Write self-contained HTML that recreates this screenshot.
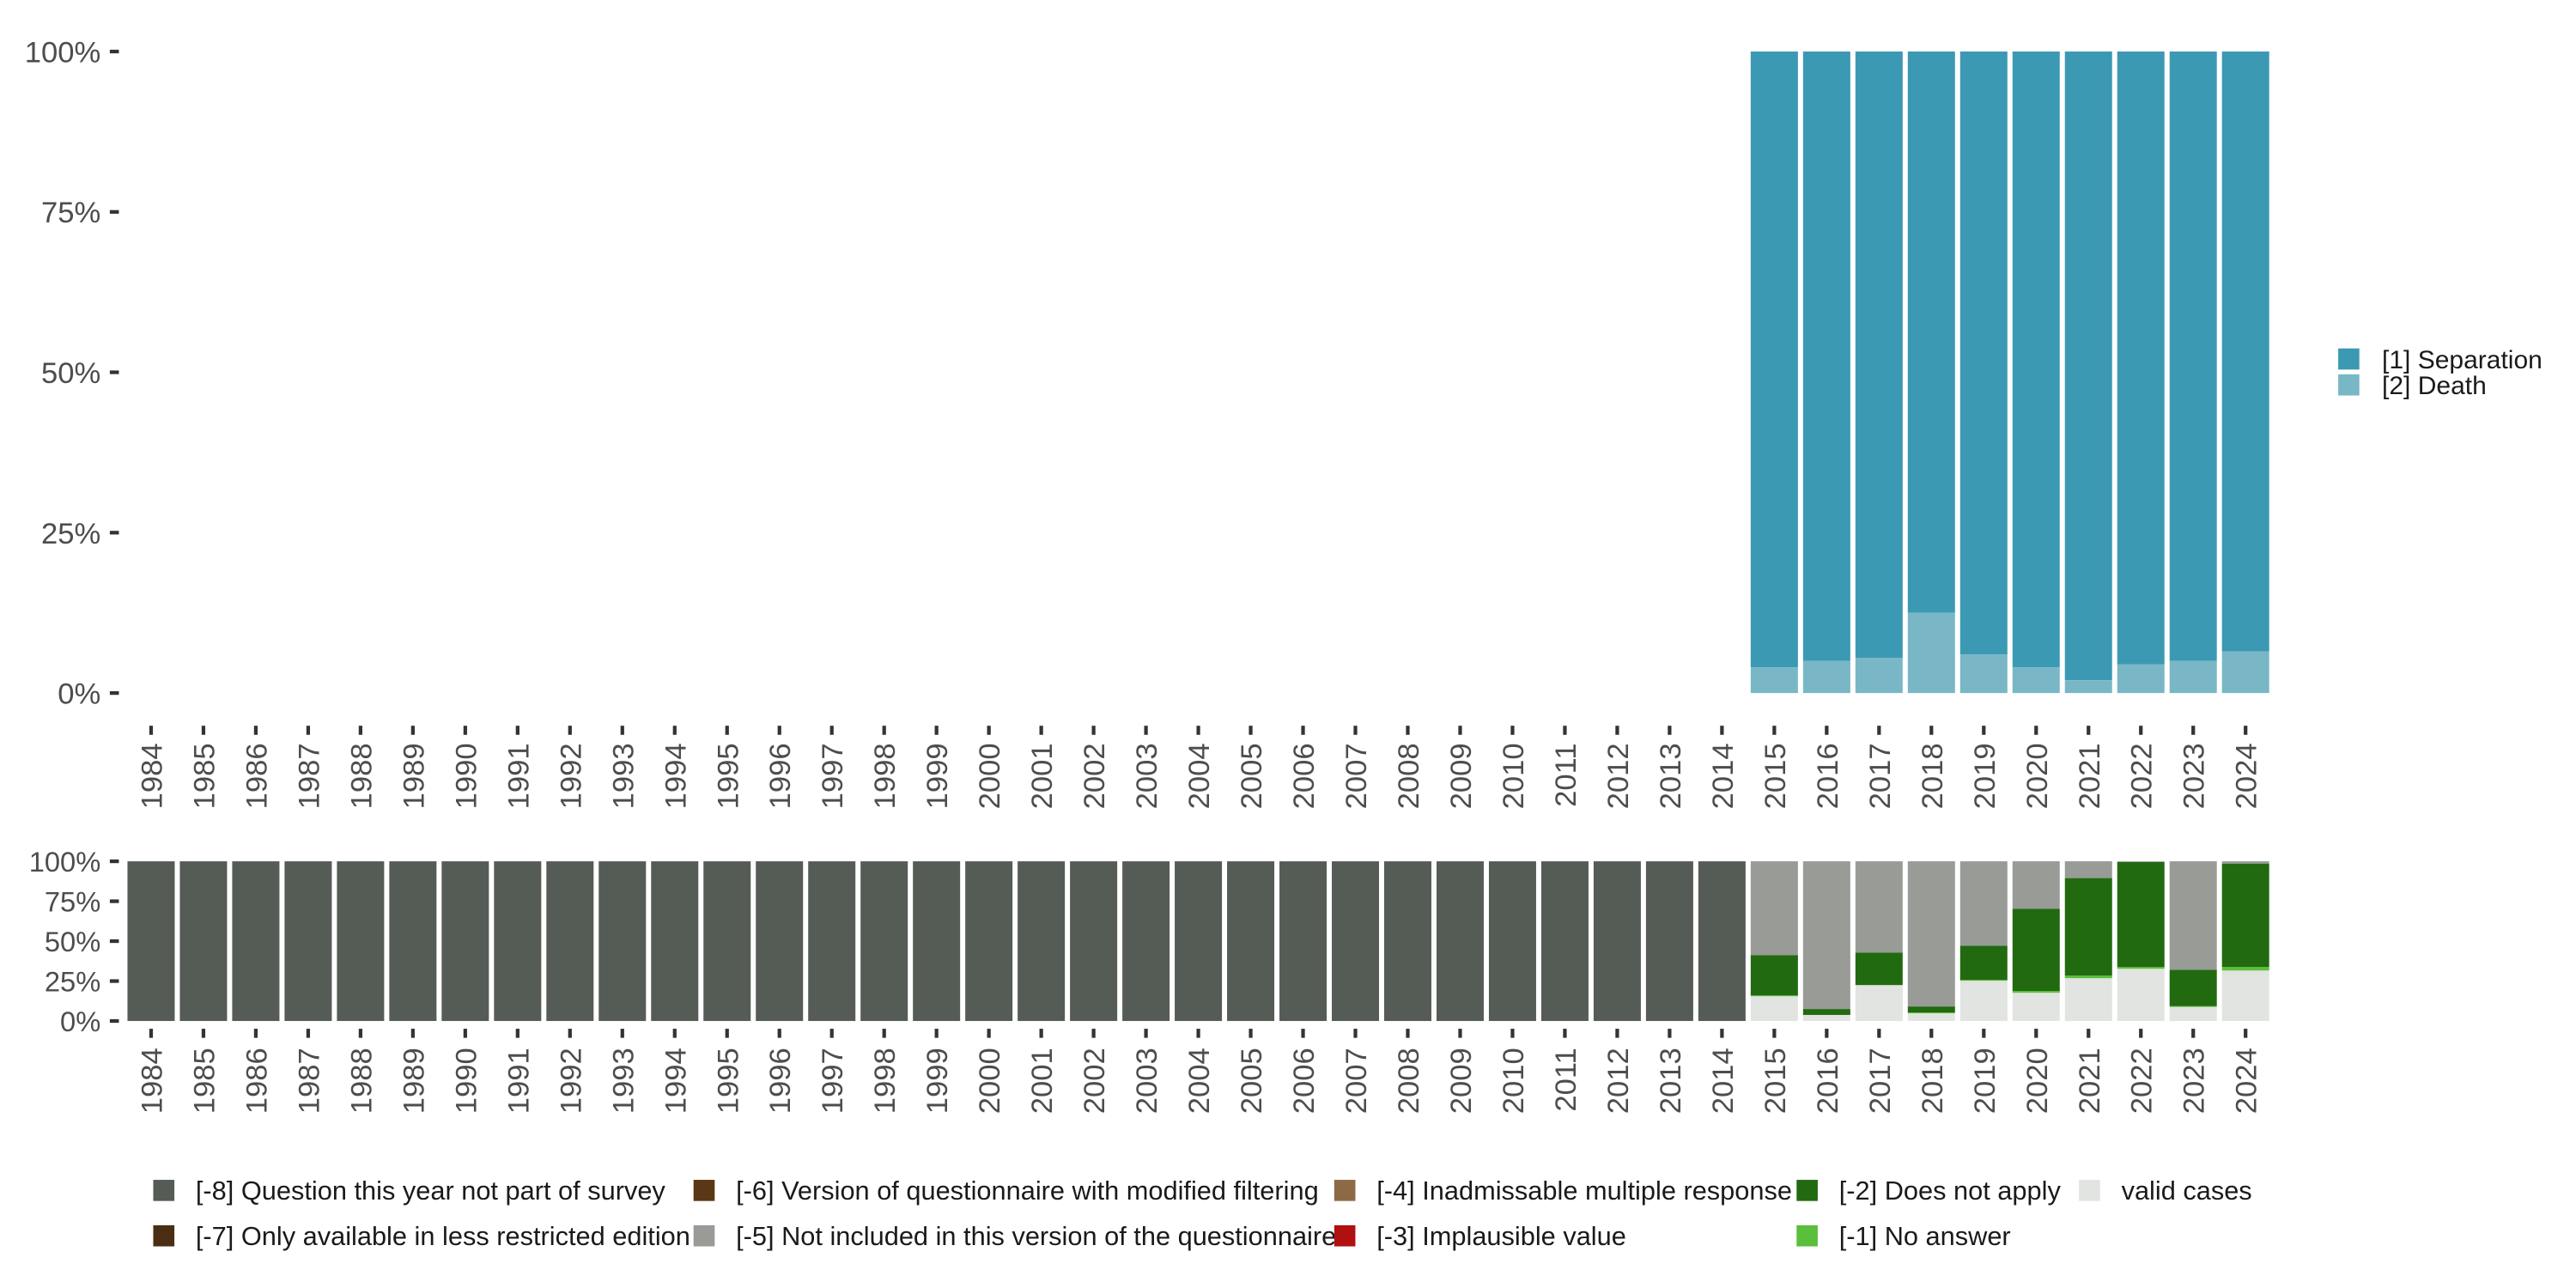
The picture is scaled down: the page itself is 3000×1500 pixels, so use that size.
<!DOCTYPE html>
<html><head><meta charset="utf-8"><style>
html,body{margin:0;padding:0;background:#fff;}
svg{display:block;font-family:"Liberation Sans","DejaVu Sans",sans-serif;}
</style></head><body>
<svg id="chart" width="3000" height="1500" viewBox="0 0 1560 780" xmlns="http://www.w3.org/2000/svg">
<g id="topPanel"></g>
<g id="botPanel"></g>
<g id="legPanel"></g>
</svg>
<script>
const years = [];
for (let y = 1984; y <= 2024; y++) years.push(y);
const topYears = [2015,2016,2017,2018,2019,2020,2021,2022,2023,2024];
const deathPct = [4,5,5.5,12.5,6,4,2,4.5,5,6.5];
const validPct = [15.5,3.8,22.5,4.8,25.2,17.7,26.8,32.7,8.8,31.6];
const noAnswerPct = [0.5,0,0,0.6,0.5,1.1,1.6,1.1,0.5,2.2];
const notApplyPct = [25.3,3.7,20.4,3.7,21.4,51.4,61.1,65.8,22.8,64.8];
const yTicks = [0,25,50,75,100];
const yTickLabels = ["0%","25%","50%","75%","100%"];

const NS = "http://www.w3.org/2000/svg";
const C = {sep:"#3c99b3",death:"#79b7c6",m8:"#555b55",m7:"#4a2e14",m6:"#5a3815",m5:"#989b96",m4:"#8b6a45",m3:"#b01010",m2:"#216a10",m1:"#5abf3a",valid:"#e1e4e0"};
function el(tag, attrs, parent, text){
  const e = document.createElementNS(NS, tag);
  for (const k in attrs) e.setAttribute(k, attrs[k]);
  if (text !== undefined) e.textContent = text;
  parent.appendChild(e); return e;
}
const xPos = i => 91.5 + i * 31.71;
const bw = 28.6;
const yTop = v => 419.7 - v / 100 * 388.5;
const yBot = v => 618.3 - v / 100 * 96.7;

function axes(g, yf, tickY0, labTop, fs){
  yTicks.forEach((t,i)=>{
    const tl = el('text',{x:61,y:yf(t)+fs*0.36,'text-anchor':'end','font-size':fs,fill:'#4d4d4d'},g,yTickLabels[i]);
    
    
    el('line',{x1:66.5,x2:72,y1:yf(t),y2:yf(t),stroke:'#333','stroke-width':2.2},g);
  });
  years.forEach((yr,i)=>{
    el('line',{x1:xPos(i),x2:xPos(i),y1:tickY0,y2:tickY0+5.5,stroke:'#333','stroke-width':2.2},g);
    const t = el('text',{transform:`translate(${xPos(i)+6.5},${labTop}) rotate(-90)`,'text-anchor':'end','font-size':18,fill:'#4d4d4d'},g,String(yr));
    
    
  });
}
const topG = document.getElementById('topPanel');
axes(topG, yTop, 439.5, 450, 18);
topYears.forEach((yr,k)=>{
  const i = years.indexOf(yr);
  const d = deathPct[k];
  const r1 = el('rect',{x:xPos(i)-bw/2,y:yTop(100),width:bw,height:yTop(d)-yTop(100),fill:C.sep},topG);
  
  
  const r2 = el('rect',{x:xPos(i)-bw/2,y:yTop(d),width:bw,height:yTop(0)-yTop(d),fill:C.death},topG);
  
  
});
const botG = document.getElementById('botPanel');
axes(botG, yBot, 623, 634.5, 17);
years.forEach((yr,i)=>{
  const k = topYears.indexOf(yr);
  if (k < 0){
    const r = el('rect',{x:xPos(i)-bw/2,y:yBot(100),width:bw,height:yBot(0)-yBot(100),fill:C.m8},botG);
    
    
    return;
  }
  const segs = [[validPct[k],C.valid,'valid'],[noAnswerPct[k],C.m1,'no-answer'],[notApplyPct[k],C.m2,'not-apply']];
  let acc = 0;
  segs.forEach(s=>{
    const r = el('rect',{x:xPos(i)-bw/2,y:yBot(acc+s[0]),width:bw,height:yBot(acc)-yBot(acc+s[0]),fill:s[1]},botG);
    
    
    acc += s[0];
  });
  const r = el('rect',{x:xPos(i)-bw/2,y:yBot(100),width:bw,height:yBot(acc)-yBot(100),fill:C.m5},botG);
  
  
});
const legG = document.getElementById('legPanel');
[["[1] Separation",C.sep,211],["[2] Death",C.death,226.7]].forEach(e=>{
  el('rect',{x:1416,y:e[2],width:12.8,height:12.8,fill:e[1]},legG);
  const t = el('text',{x:1442.5,y:e[2]+12,'font-size':15.6,fill:'#1a1a1a'},legG,e[0]);
  
  
});
const bl = [
  [92.8,714.5,C.m8,"[-8] Question this year not part of survey"],
  [92.8,742,C.m7,"[-7] Only available in less restricted edition"],
  [420,714.5,C.m6,"[-6] Version of questionnaire with modified filtering"],
  [420,742,C.m5,"[-5] Not included in this version of the questionnaire"],
  [808,714.5,C.m4,"[-4] Inadmissable multiple response"],
  [808,742,C.m3,"[-3] Implausible value"],
  [1088,714.5,C.m2,"[-2] Does not apply"],
  [1088,742,C.m1,"[-1] No answer"],
  [1259,714.5,C.valid,"valid cases"]
];
bl.forEach(e=>{
  el('rect',{x:e[0],y:e[1],width:12.8,height:12.8,fill:e[2]},legG);
  const t = el('text',{x:e[0]+25.7,y:e[1]+12,'font-size':16,fill:'#1a1a1a'},legG,e[3]);
  
  
});
</script>
</body></html>
